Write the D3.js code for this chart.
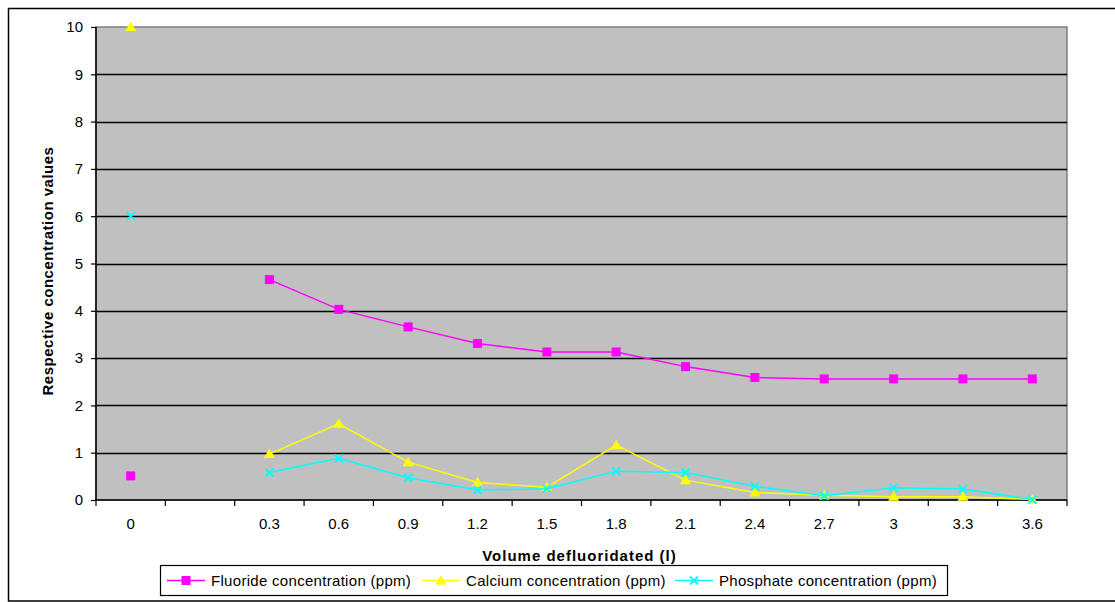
<!DOCTYPE html>
<html>
<head>
<meta charset="utf-8">
<script src="https://cdn.jsdelivr.net/npm/d3@7"></script>
<style>
body { margin: 0; background: #fff; }
svg { font-family: "Liberation Sans", Arial, sans-serif; }
</style>
</head>
<body>
<svg id="chart" width="1115" height="602"></svg>
<script>
// categories (blank slot between 0 and 0.3 as in the sheet)
var volumes = ["0", "", "0.3", "0.6", "0.9", "1.2", "1.5", "1.8", "2.1", "2.4", "2.7", "3", "3.3", "3.6"];
var fluoride = [0.51, null, 4.66, 4.03, 3.66, 3.31, 3.13, 3.13, 2.82, 2.59, 2.56, 2.56, 2.56, 2.56];
var calcium = [10, null, 0.97, 1.61, 0.8, 0.37, 0.27, 1.16, 0.42, 0.16, 0.1, 0.07, 0.07, 0.01];
var phosphate = [6, null, 0.58, 0.88, 0.47, 0.21, 0.24, 0.61, 0.58, 0.29, 0.09, 0.26, 0.23, 0.01];
var yTicks = [0, 1, 2, 3, 4, 5, 6, 7, 8, 9, 10];

var seriesNames = ["Fluoride concentration (ppm)", "Calcium concentration (ppm)", "Phosphate concentration (ppm)"];
var seriesColors = ["#ff00ff", "#ffff00", "#00ffff"];
var seriesMarkers = ["square", "triangle", "cross"];
var seriesValues = [fluoride, calcium, phosphate];

var svg = d3.select("#chart");

// outer chart border
svg.append("rect")
	.attr("x", 8.5).attr("y", 8.5)
	.attr("width", 1115).attr("height", 592.5)
	.attr("fill", "#fff")
	.attr("stroke", "#000")
	.attr("stroke-width", 1.5);

var margin = {top: 27, left: 96};
var graph_w = 971, graph_h = 473;
var g = svg.append("g")
	.attr("transform", "translate(" + margin.left + "," + margin.top + ")");

var x = d3.scaleBand()
	.domain(volumes.map(function(d, i) { return i; }))
	.range([0, graph_w])
	.padding(0);

var y = d3.scaleLinear()
	.domain([0, 10])
	.range([graph_h, 0]);

// plot area
g.append("rect")
	.attr("width", graph_w).attr("height", graph_h)
	.attr("fill", "#c0c0c0")
	.attr("stroke", "#808080")
	.attr("stroke-width", 1.5);

// horizontal gridlines
g.append("g")
	.selectAll("line")
	.data(yTicks.filter(function(d) { return d > 0 && d < 10; }))
	.enter().append("line")
	.attr("x1", 0).attr("x2", graph_w)
	.attr("y1", function(d) { return Math.round(y(d)) + 0.5; })
	.attr("y2", function(d) { return Math.round(y(d)) + 0.5; })
	.attr("stroke", "#000")
	.attr("stroke-width", 1.5);

// y axis
var yAxis = g.append("g")
	.call(d3.axisLeft(y).tickValues(yTicks).tickSize(5).tickPadding(8).tickFormat(d3.format("d")));
yAxis.select(".domain").attr("stroke", "#000").attr("stroke-width", 1.5).attr("d", "M0,0V" + graph_h);
yAxis.selectAll(".tick line").attr("stroke", "#000").attr("stroke-width", 1.2);
yAxis.selectAll("text").attr("font-size", "15px").attr("fill", "#000");

// x axis: labels centred in each slot, tick marks at slot boundaries
var xAxis = g.append("g")
	.attr("transform", "translate(0," + graph_h + ")")
	.call(d3.axisBottom(x).tickSize(0).tickPadding(18).tickFormat(function(i) { return volumes[i]; }));
xAxis.select(".domain").attr("stroke", "#000").attr("stroke-width", 1.5).attr("d", "M0,0H" + graph_w);
xAxis.selectAll("text").attr("font-size", "15px").attr("fill", "#000");

var bounds = volumes.map(function(d, i) { return x(i); }).concat([graph_w]);
xAxis.selectAll(".bound")
	.data(bounds)
	.enter().append("line")
	.attr("class", "bound")
	.attr("x1", function(d) { return d; })
	.attr("x2", function(d) { return d; })
	.attr("y1", 0).attr("y2", 6)
	.attr("stroke", "#000")
	.attr("stroke-width", 1.2);

// axis titles
svg.append("text")
	.attr("x", margin.left + graph_w / 2 - 2)
	.attr("y", 561)
	.attr("text-anchor", "middle")
	.attr("font-size", "15px")
	.attr("font-weight", "bold")
	.attr("letter-spacing", "1px")
	.text("Volume defluoridated (l)");

svg.append("text")
	.attr("transform", "translate(53,271) rotate(-90)")
	.attr("text-anchor", "middle")
	.attr("font-size", "15px")
	.attr("font-weight", "bold")
	.attr("letter-spacing", "0.5px")
	.text("Respective concentration values");

function drawMarker(sel, type, color) {
	if (type == "square") {
		sel.append("rect")
			.attr("x", -4.5).attr("y", -4.5)
			.attr("width", 9).attr("height", 9)
			.attr("fill", color);
	} else if (type == "triangle") {
		sel.append("path")
			.attr("d", "M0,-5.5L5.5,4L-5.5,4Z")
			.attr("fill", color);
	} else {
		sel.append("path")
			.attr("d", "M-4,-4L4,4M-4,4L4,-4")
			.attr("stroke", color)
			.attr("stroke-width", 1.8)
			.attr("fill", "none");
	}
}

var line = d3.line()
	.defined(function(d) { return d != null; })
	.x(function(d, i) { return x(i) + x.bandwidth() / 2; })
	.y(function(d) { return y(d); });

seriesValues.forEach(function(vals, s) {
	g.append("path")
		.datum(vals)
		.attr("fill", "none")
		.attr("stroke", seriesColors[s])
		.attr("stroke-width", 1.5)
		.attr("d", line);

	g.append("g")
		.selectAll("g")
		.data(vals.map(function(v, i) { return {v: v, i: i}; }).filter(function(d) { return d.v != null; }))
		.enter().append("g")
		.attr("transform", function(d) { return "translate(" + (x(d.i) + x.bandwidth() / 2) + "," + y(d.v) + ")"; })
		.each(function() { drawMarker(d3.select(this), seriesMarkers[s], seriesColors[s]); });
});

// legend
var legend = svg.append("g");
legend.append("rect")
	.attr("x", 160.5).attr("y", 565.5)
	.attr("width", 787).attr("height", 30)
	.attr("fill", "#fff")
	.attr("stroke", "#000")
	.attr("stroke-width", 1.2);

var legendX = [167, 422, 675];
seriesNames.forEach(function(name, s) {
	var item = legend.append("g")
		.attr("transform", "translate(" + legendX[s] + ",580.5)");
	item.append("line")
		.attr("x1", 0).attr("x2", 38)
		.attr("stroke", seriesColors[s])
		.attr("stroke-width", 1.5);
	var m = item.append("g").attr("transform", "translate(19,0)");
	drawMarker(m, seriesMarkers[s], seriesColors[s]);
	item.append("text")
		.attr("x", 44)
		.attr("y", 5.5)
		.attr("font-size", "15px")
		.attr("letter-spacing", "0.3px")
		.text(name);
});
</script>
</body>
</html>
